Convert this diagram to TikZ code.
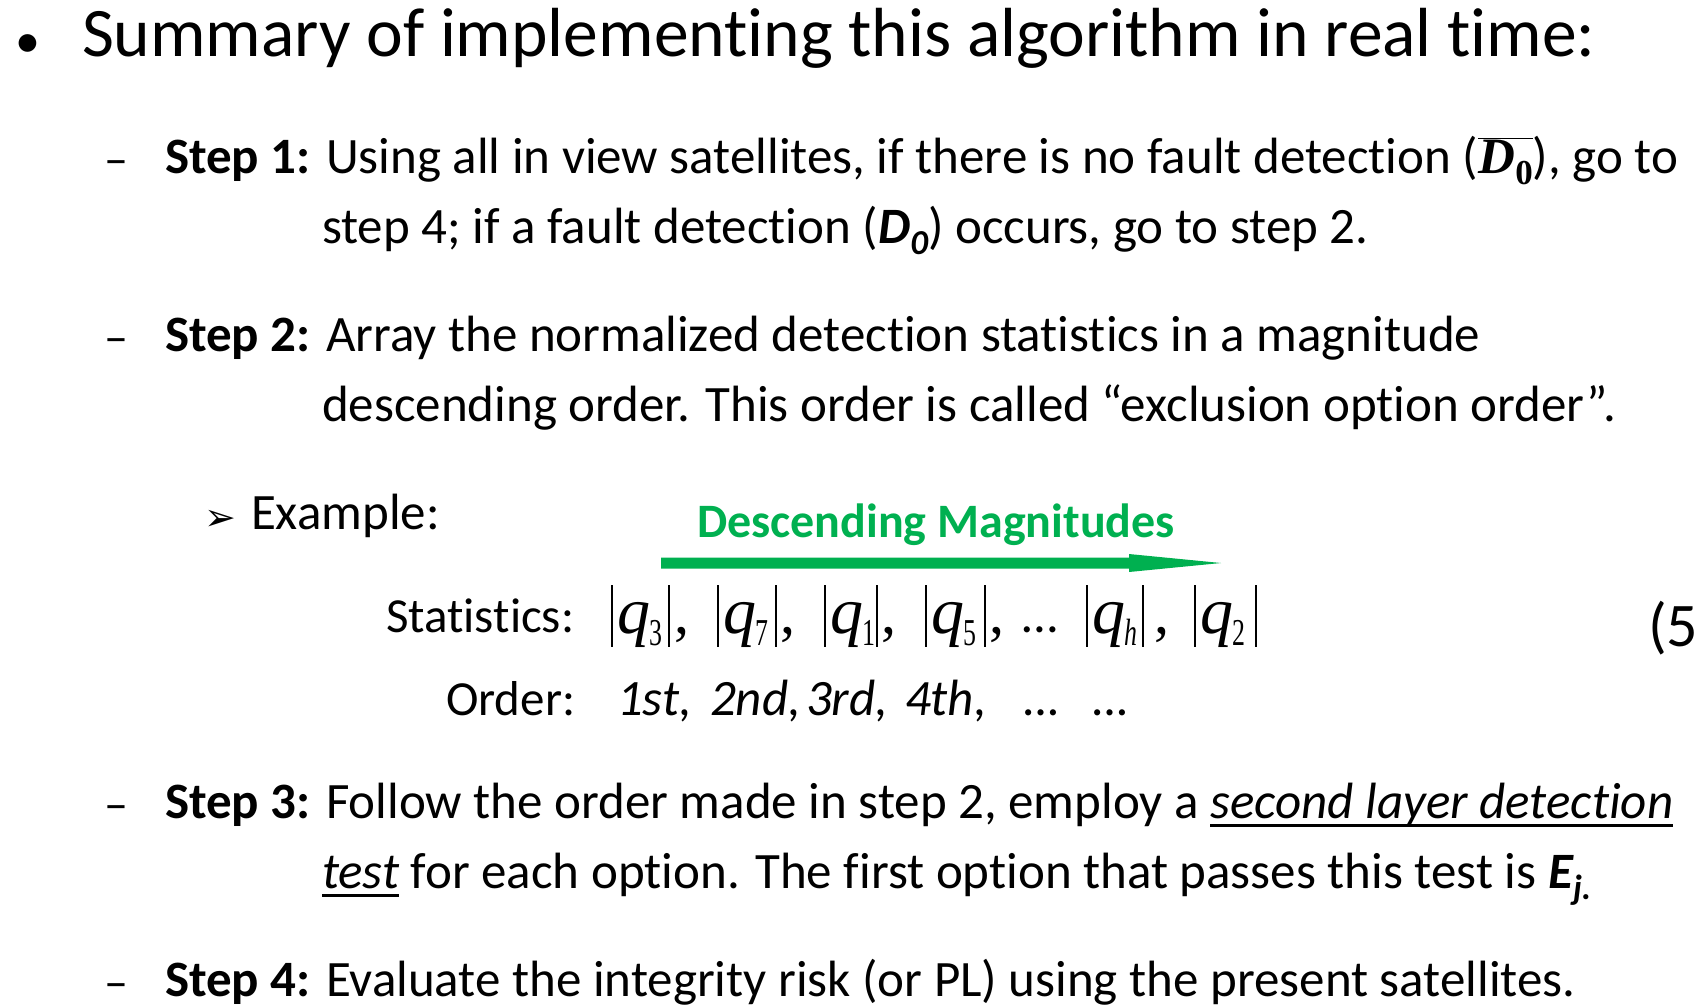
\documentclass[tikz,border=0pt]{standalone}
\usepackage{fontspec}
\usepackage{graphicx}
\setmainfont{Carlito}[Ligatures={NoCommon}]
\newfontfamily\tms{Liberation Serif}
\newfontfamily\djv{DejaVu Sans}
\usetikzlibrary{calc}
\definecolor{slidegreen}{RGB}{0,176,80}
% underline with a fixed offset below the baseline
\newcommand\ulin[1]{\setbox0\hbox{#1}\rlap{\rule[-0.17em]{\wd0}{0.055em}}\box0{}}
% narrow subscript of the statistics
\newcommand\qsub[1]{\raisebox{-0.19em}{\fontsize{38}{38}\selectfont\upshape\scalebox{0.68}[1]{#1}}}
\begin{document}
\begin{tikzpicture}[x=1pt,y=-1pt,
  every node/.style={inner sep=0pt,outer sep=0pt,anchor=base west},
  titletxt/.style={font=\fontsize{69.5}{80}\selectfont},
  body/.style={font=\fontsize{51}{60}\selectfont},
  bodyit/.style={font=\fontsize{51}{60}\selectfont\itshape},
  dashmark/.style={font=\fontsize{48}{50}\selectfont},
  qsym/.style={font=\fontsize{66}{66}\selectfont\tms\itshape},
  absbar/.style={line width=1.3pt},
  greenarrow/.style={fill=slidegreen,draw=none}]
\useasboundingbox (0,0) rectangle (1694,1005);
\clip (0,0) rectangle (1694,1005);

% heading
\node[font=\fontsize{50}{50}\selectfont] (bul) at (15,57) {\textbullet};
\node[titletxt] (title) at (82,56) {Summary of implementing this algorithm in real time:};

% step 1
\node[dashmark] (d1) at (104,175) {–};
\node[body] (s1a) at (165,173) {\textbf{Step 1:} Using all in view satellites, if there is no fault detection ($\overline{\hbox{\tms\bfseries\itshape D\raisebox{-0.22em}{\fontsize{35}{35}\selectfont\upshape 0}}}$), go to};
\node[body] (s1b) at (322,243) {step 4; if a fault detection (\textbf{\textit{D\raisebox{-0.22em}{\fontsize{35}{35}\selectfont 0}}}) occurs, go to step 2.};

% step 2
\node[dashmark] (d2) at (104,353) {–};
\node[body] (s2a) at (165,351) {\textbf{Step 2:} Array the normalized detection statistics in a magnitude};
\node[body] (s2b) at (322,421) {descending order. This order is called “exclusion option order”.};

% example
\node[font=\fontsize{38}{38}\selectfont\djv] (ex0) at (204,530) {➢};
\node[body] (ex) at (251,529) {Example:};
\node[font=\fontsize{48}{50}\selectfont\bfseries,text=slidegreen] (desc) at (697,537) {Descending Magnitudes};
\coordinate (arA) at (661,563);
\coordinate (arB) at (1221,563);
\fill[greenarrow] ($(arA)+(0,-5.5)$) -- ($(arB)+(-92,-5.5)$) -- ($(arB)+(-92,-9)$) -- (arB)
  -- ($(arB)+(-92,9)$) -- ($(arB)+(-92,5.5)$) -- ($(arA)+(0,5.5)$) -- cycle;

\node[font=\fontsize{49}{60}\selectfont] (stat) at (386,632) {Statistics:};
\foreach \xl/\s/\xr/\k in {612/3/669/a,718/7/776/b,825/1/877/c,926/5/985/d,1087/\textit{h}/1143/e,1195/2/1256/f}{
  \draw[absbar] (\xl,585) -- (\xl,647);
  \node[qsym] (q\k) at (\xl+5,633) {q\kern-0.5pt\qsub{\s}};
  \draw[absbar] (\xr,585) -- (\xr,647);
}
\foreach \xr/\k in {674/a,780/b,881/c,989/d,1154/e}{
  \node[font=\fontsize{60}{60}\selectfont\tms] (c\k) at (\xr,633) {,};
}
\node[body] (sdots) at (1022,632) {…};
\node[font=\fontsize{62}{62}\selectfont] (eqn) at (1648,646) {(5};

\node[font=\fontsize{49}{60}\selectfont] (ord) at (446,715) {Order:};
\node[bodyit] (o1) at (617,715) {1st,};
\node[bodyit] (o2) at (710,715) {2nd,};
\node[bodyit] (o3) at (806,715) {3rd,};
\node[bodyit] (o4) at (905,715) {4th,};
\node[bodyit] (o5) at (1024,715) {…};
\node[bodyit] (o6) at (1093,715) {…};

% step 3
\node[dashmark] (d3) at (104,820) {–};
\node[body] (s3a) at (165,818) {\textbf{Step 3:} Follow the order made in step 2, employ a \ulin{\textit{second layer detection}}};
\node[body] (s3b) at (322,888) {\ulin{\textit{test}} for each option. The first option that passes this test is \textbf{\textit{E\raisebox{-0.22em}{\fontsize{35}{35}\selectfont j.}}}};

% step 4
\node[dashmark] (d4) at (104,998) {–};
\node[body] (s4) at (165,996) {\textbf{Step 4:} Evaluate the integrity risk (or PL) using the present satellites.};
\end{tikzpicture}
\end{document}
